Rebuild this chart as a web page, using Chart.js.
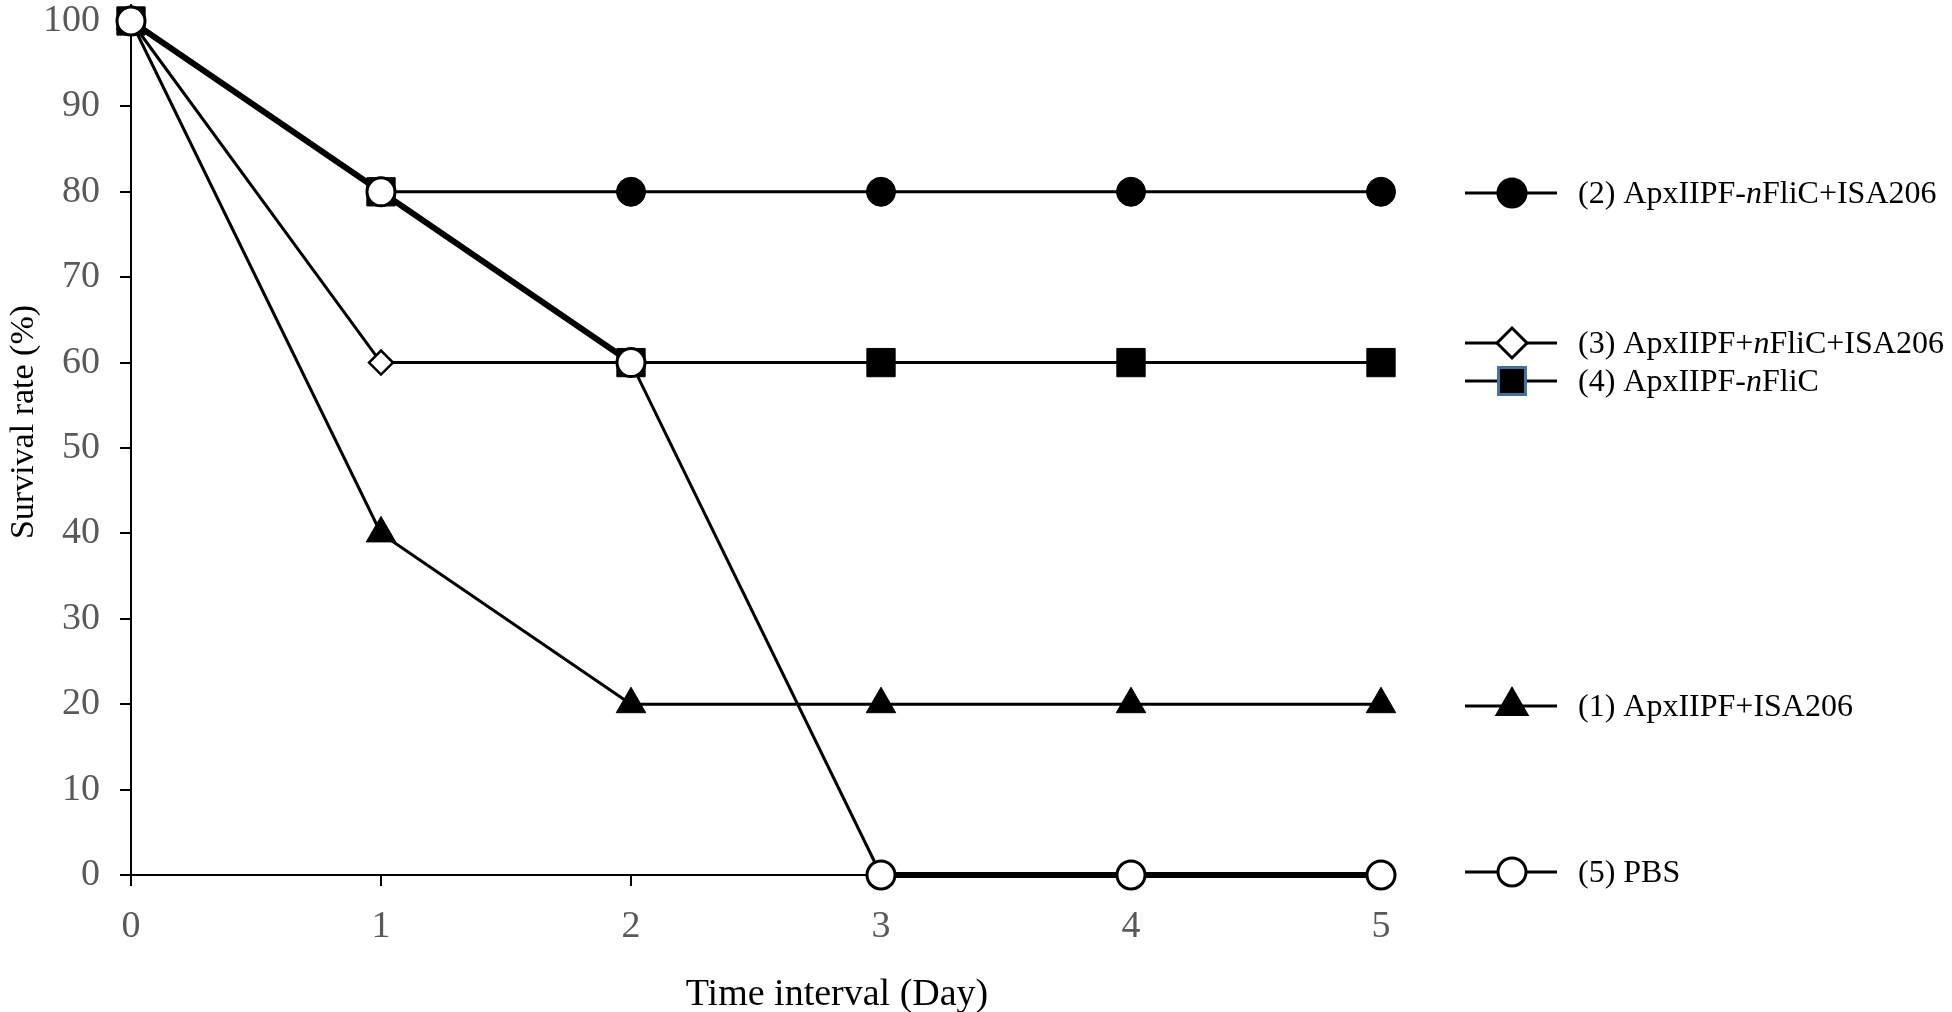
<!DOCTYPE html>
<html>
<head>
<meta charset="utf-8">
<script src="https://cdn.jsdelivr.net/npm/chart.js@4.4.8/dist/chart.umd.min.js"></script>
<style>
    body { margin: 0; background: #fff; }
</style>
</head>
<body>
<canvas id="chart" width="1952" height="1012"></canvas>
<script>
/*  Data  */

const days = [0, 1, 2, 3, 4, 5];

const group1 = [100, 40, 20, 20, 20, 20];   // (1) ApxIIPF+ISA206
const group2 = [100, 80, 80, 80, 80, 80];   // (2) ApxIIPF-nFliC+ISA206
const group3 = [100, 60, 60, 60, 60, 60];   // (3) ApxIIPF+nFliC+ISA206
const group4 = [100, 80, 60, 60, 60, 60];   // (4) ApxIIPF-nFliC
const group5 = [100, 80, 60, 0, 0, 0];      // (5) PBS

const label1 = [['(1) ApxIIPF+ISA206', false]];
const label2 = [['(2) ApxIIPF-', false], ['n', true], ['FliC+ISA206', false]];
const label3 = [['(3) ApxIIPF+', false], ['n', true], ['FliC+ISA206', false]];
const label4 = [['(4) ApxIIPF-', false], ['n', true], ['FliC', false]];
const label5 = [['(5) PBS', false]];

const xTitle = 'Time interval (Day)';
const yTitle = 'Survival rate (%)';


/*  Styles  */

const FONT = '"Liberation Serif", "Times New Roman", serif';
const TICK_GREY = '#595959';

function points(values) {
    return days.map((d, i) => ({ x: d, y: values[i] }));
}

// legend rows, top to bottom (pixel rows chosen to sit beside the curves)
const legendRows = [
    { parts: label2, y: 193, style: 'circle', r: 14, fill: '#000', stroke: '#000' },
    { parts: label3, y: 343, style: 'rectRot', r: 15, fill: '#fff', stroke: '#000' },
    { parts: label4, y: 381, style: 'rect', r: 19, fill: '#000', stroke: '#41719c' },
    { parts: label1, y: 706, style: 'triangle', r: 17, fill: '#000', stroke: '#000' },
    { parts: label5, y: 872, style: 'circle', r: 14, fill: '#fff', stroke: '#000' }
];


/*  Plugins  */

const extras = {
    id: 'extras',
    afterDraw(chart) {
        const ctx = chart.ctx;
        ctx.save();

        // axis titles
        ctx.fillStyle = '#000';
        ctx.font = '38px ' + FONT;
        ctx.textAlign = 'center';
        ctx.textBaseline = 'middle';
        ctx.fillText(xTitle, 837, 995);

        ctx.save();
        ctx.translate(24, 422);
        ctx.rotate(-Math.PI / 2);
        ctx.font = '34px ' + FONT;
        ctx.fillText(yTitle, 0, 0);
        ctx.restore();

        // legend
        legendRows.forEach(row => {
            ctx.strokeStyle = '#000';
            ctx.lineWidth = 3;
            ctx.beginPath();
            ctx.moveTo(1465, row.y);
            ctx.lineTo(1557, row.y);
            ctx.stroke();

            ctx.fillStyle = row.fill;
            ctx.strokeStyle = row.stroke;
            Chart.helpers.drawPoint(ctx, {
                pointStyle: row.style,
                radius: row.r,
                borderWidth: 3,
                rotation: 0
            }, 1512, row.y);

            let x = 1578;
            ctx.fillStyle = '#000';
            ctx.textAlign = 'left';
            ctx.textBaseline = 'middle';
            row.parts.forEach(([text, italic]) => {
                ctx.font = (italic ? 'italic ' : '') + '32px ' + FONT;
                ctx.fillText(text, x, row.y + 2);
                x += ctx.measureText(text).width;
            });
        });

        ctx.restore();
    }
};


/*  Chart  */

const ctx = document.getElementById('chart').getContext('2d');

new Chart(ctx, {
    type: 'line',
    data: {
        datasets: [
            {
                label: '(5) PBS',
                data: points(group5),
                order: 1,
                borderColor: '#000',
                borderWidth: 6,
                segment: {
                    borderWidth: c => (c.p0DataIndex === 2 ? 3 : 6)
                },
                pointStyle: 'circle',
                pointRadius: 14,
                pointBackgroundColor: '#fff',
                pointBorderColor: '#000',
                pointBorderWidth: 3
            },
            {
                label: '(4) ApxIIPF-nFliC',
                data: points(group4),
                order: 2,
                borderColor: '#000',
                borderWidth: 3,
                pointStyle: 'rect',
                pointRadius: 20,
                pointBackgroundColor: '#000',
                pointBorderColor: '#000',
                pointBorderWidth: 1
            },
            {
                label: '(1) ApxIIPF+ISA206',
                data: points(group1),
                order: 3,
                borderColor: '#000',
                borderWidth: 3,
                pointStyle: 'triangle',
                pointRadius: 17,
                pointBackgroundColor: '#000',
                pointBorderColor: '#000',
                pointBorderWidth: 1
            },
            {
                label: '(3) ApxIIPF+nFliC+ISA206',
                data: points(group3),
                order: 4,
                borderColor: '#000',
                borderWidth: 3,
                pointStyle: 'rectRot',
                pointRadius: 12,
                pointBackgroundColor: '#fff',
                pointBorderColor: '#000',
                pointBorderWidth: 2.5
            },
            {
                label: '(2) ApxIIPF-nFliC+ISA206',
                data: points(group2),
                order: 5,
                borderColor: '#000',
                borderWidth: 3,
                pointStyle: 'circle',
                pointRadius: 14.5,
                pointBackgroundColor: '#000',
                pointBorderColor: '#000',
                pointBorderWidth: 1
            }
        ]
    },
    options: {
        responsive: false,
        animation: false,
        clip: false,
        tension: 0,
        layout: {
            padding: { left: 0, right: 571, top: 20, bottom: 0 }
        },
        plugins: {
            legend: { display: false },
            tooltip: { enabled: false }
        },
        scales: {
            x: {
                type: 'linear',
                min: 0,
                max: 5,
                afterFit: s => {
                    s.height = 137;
                    s.paddingLeft = 0;
                    s.paddingRight = 0;
                },
                ticks: {
                    stepSize: 1,
                    color: TICK_GREY,
                    padding: 22,
                    font: { family: FONT, size: 38, lineHeight: 1 }
                },
                grid: {
                    drawOnChartArea: false,
                    drawTicks: true,
                    tickLength: 11,
                    color: '#000',
                    lineWidth: 2
                },
                border: { color: '#000', width: 2 }
            },
            y: {
                min: 0,
                max: 100,
                afterFit: s => {
                    s.width = 131;
                    s.paddingTop = 0;
                    s.paddingBottom = 0;
                },
                ticks: {
                    stepSize: 10,
                    color: TICK_GREY,
                    padding: 20,
                    font: { family: FONT, size: 38, lineHeight: 1 }
                },
                grid: {
                    drawOnChartArea: false,
                    drawTicks: true,
                    tickLength: 11,
                    color: '#000',
                    lineWidth: 2
                },
                border: { color: '#000', width: 2 }
            }
        }
    },
    plugins: [extras]
});
</script>
</body>
</html>
